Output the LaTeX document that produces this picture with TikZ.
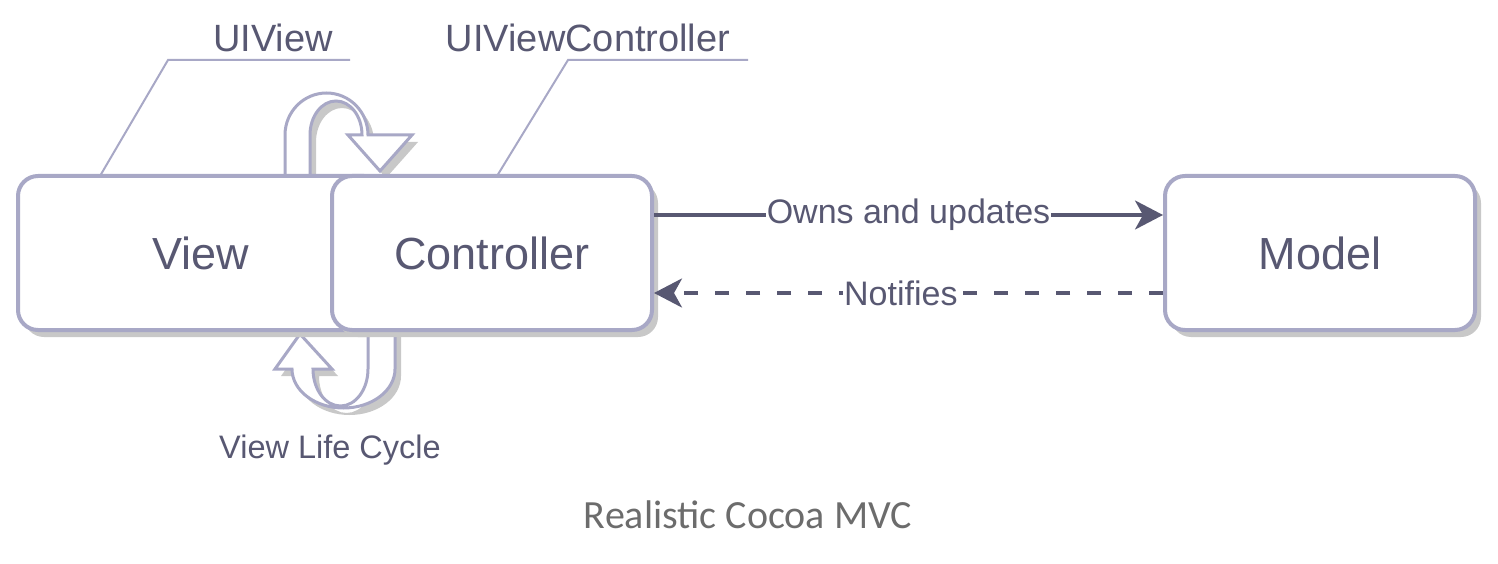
\documentclass[tikz,border=0pt]{standalone}
\usepackage{fontspec}
\setmainfont{Liberation Sans}
\newfontfamily\capfont{Carlito}
\usetikzlibrary{shadows,arrows.meta}
\definecolor{edgec}{RGB}{168,168,198}
\definecolor{ink}{RGB}{88,88,114}
\definecolor{shade}{RGB}{200,200,200}
\definecolor{capgray}{RGB}{108,108,108}
\begin{document}
\begin{tikzpicture}[x=1pt,y=-1pt,
  myshadow/.style={drop shadow={shadow xshift=6pt,shadow yshift=-7pt,fill=shade,opacity=1}},
  box/.style={draw=edgec,line width=4pt,rounded corners=20pt,fill=white,
    minimum height=154pt,inner sep=0pt,text=ink,
    font=\fontsize{45}{50}\selectfont,myshadow},
  lbl/.style={text=ink,inner sep=0pt,font=\fontsize{38}{42}\selectfont},
  leader/.style={draw=edgec,line width=2pt},
  flow/.style={draw=ink,line width=3.5pt,-{Stealth[length=28pt,width=29pt,inset=8pt]}},
  flowlbl/.style={fill=white,text=ink,inner sep=1pt,font=\fontsize{34}{38}\selectfont},
  uturn/.style={draw=edgec,line width=3pt,fill=white,line join=miter,myshadow}
]
\useasboundingbox (0,0) rectangle (1498,564);

% U-turn arrows (behind boxes)
\path[uturn] (285,182) -- (285,135)
  arc[start angle=180,end angle=0,x radius=41.5pt,y radius=42pt]
  -- (412,135) -- (380,171) -- (348,135) -- (362,135)
  arc[start angle=0,end angle=180,x radius=26pt,y radius=34pt]
  -- (310,182) -- cycle;
\path[uturn] (395,325) -- (395,369)
  arc[start angle=0,end angle=-180,x radius=51.5pt,y radius=39pt]
  -- (275,369) -- (300,334) -- (332,369) -- (313,369)
  arc[start angle=180,end angle=360,x radius=27.5pt,y radius=37pt]
  -- (368,325) -- cycle;

% boxes
\node[box,minimum width=366pt] (view) at (201,253) {View};
\node[box,minimum width=320pt] (ctrl) at (492,253) {Controller};
\node[box,minimum width=310pt] (model) at (1320,253) {Model};

% class labels
\node[lbl] (uiview) at (273,38) {UIView};
\node[lbl] (uivc) at (588,38) {UIViewController};
\coordinate (uvA) at (100,176);
\coordinate (uvB) at (168,60);
\coordinate (uvC) at (350,60);
\draw[leader] (uvA) -- (uvB) -- (uvC);
\coordinate (vcA) at (497,176);
\coordinate (vcB) at (568,60);
\coordinate (vcC) at (748,60);
\draw[leader] (vcA) -- (vcB) -- (vcC);

% relations
\draw[flow] ([yshift=38pt]ctrl.east) -- node[flowlbl]{Owns and updates} ([yshift=38pt]model.west);
\draw[flow,dash pattern=on 14pt off 17pt] ([yshift=-40pt]model.west) -- node[flowlbl,pos=0.515]{Notifies} ([yshift=-40pt]ctrl.east);

% life cycle label
\node[text=ink,inner sep=0pt,font=\fontsize{32.5}{36}\selectfont] (vlc) at (330,450) {View Life Cycle};

% caption
\node[text=capgray,inner sep=0pt,font=\capfont\fontsize{40}{44}\selectfont] (cap) at (748,515) {Realistic Cocoa MVC};
\end{tikzpicture}
\end{document}
